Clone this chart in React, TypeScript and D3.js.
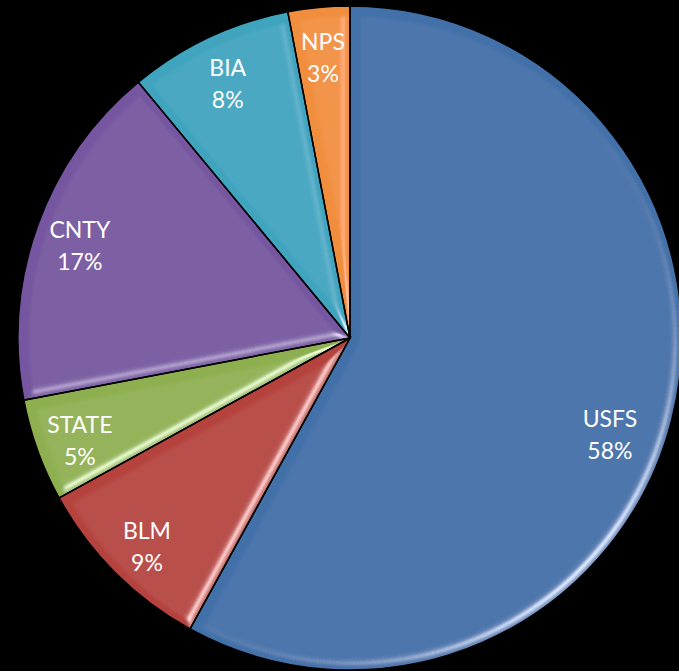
import React from 'react';
import * as d3 from 'd3';

const categories = ['USFS', 'BLM', 'STATE', 'CNTY', 'BIA', 'NPS'];
const values = [58, 9, 5, 17, 8, 3];
const colors = ['#4270A8', '#B5433E', '#8EAF4F', '#7656A0', '#3FA4BF', '#F08E3E'];

const W = 679;
const H = 671;
const CX = 350;
const CY = 338;
const R = 332;

export default function App() {
  const pie = d3.pie<number>().sort(null).value((d) => d).startAngle(0).endAngle(2 * Math.PI);
  const arcs = pie(values);
  const arc = d3.arc<d3.PieArcDatum<number>>().innerRadius(0).outerRadius(R);
  const total = d3.sum(values);
  const maxV = d3.max(values) as number;

  return (
    <svg width={W} height={H} style={{ position: 'fixed', left: 0, top: 0, background: '#000' }}>
      <defs>
        <filter id="bevel" x="-5%" y="-5%" width="110%" height="110%">
          <feGaussianBlur in="SourceAlpha" stdDeviation="5" result="blur" />
          <feSpecularLighting in="blur" surfaceScale="6" specularConstant="0.9" specularExponent="28" lightingColor="#ffffff" result="spec">
            <feDistantLight azimuth="45" elevation="35" />
          </feSpecularLighting>
          <feComposite in="spec" in2="SourceAlpha" operator="in" result="specIn" />
          <feComposite in="SourceGraphic" in2="specIn" operator="arithmetic" k1="0" k2="1" k3="0.7" k4="0" />
        </filter>
      </defs>
      <rect x={0} y={0} width={W} height={H} fill="#000" />
      <g transform={`translate(${CX},${CY})`}>
        {arcs.map((a, i) => (
          <path key={categories[i]} d={arc(a) as string} fill={colors[i]} filter="url(#bevel)" />
        ))}
        {arcs.map((a, i) => (
          <path key={'s' + categories[i]} d={arc(a) as string} fill="none" stroke="#000" strokeWidth={1.5} />
        ))}
        {arcs.map((a, i) => {
          const big = values[i] === maxV;
          const mid = (a.startAngle + a.endAngle) / 2 + (big ? (5 * Math.PI) / 180 : 0);
          const lr = big ? R * 0.83 : R * 0.865;
          const x = Math.sin(mid) * lr;
          const y = -Math.cos(mid) * lr;
          const pct = Math.round((values[i] / total) * 100) + '%';
          return (
            <text key={'t' + categories[i]} x={x} y={y} textAnchor="middle" fill="#fff" fontFamily="Lato, 'Open Sans', sans-serif" fontSize={23}>
              <tspan x={x} dy="-0.1em">{categories[i]}</tspan>
              <tspan x={x} dy="1.38em">{pct}</tspan>
            </text>
          );
        })}
      </g>
    </svg>
  );
}
